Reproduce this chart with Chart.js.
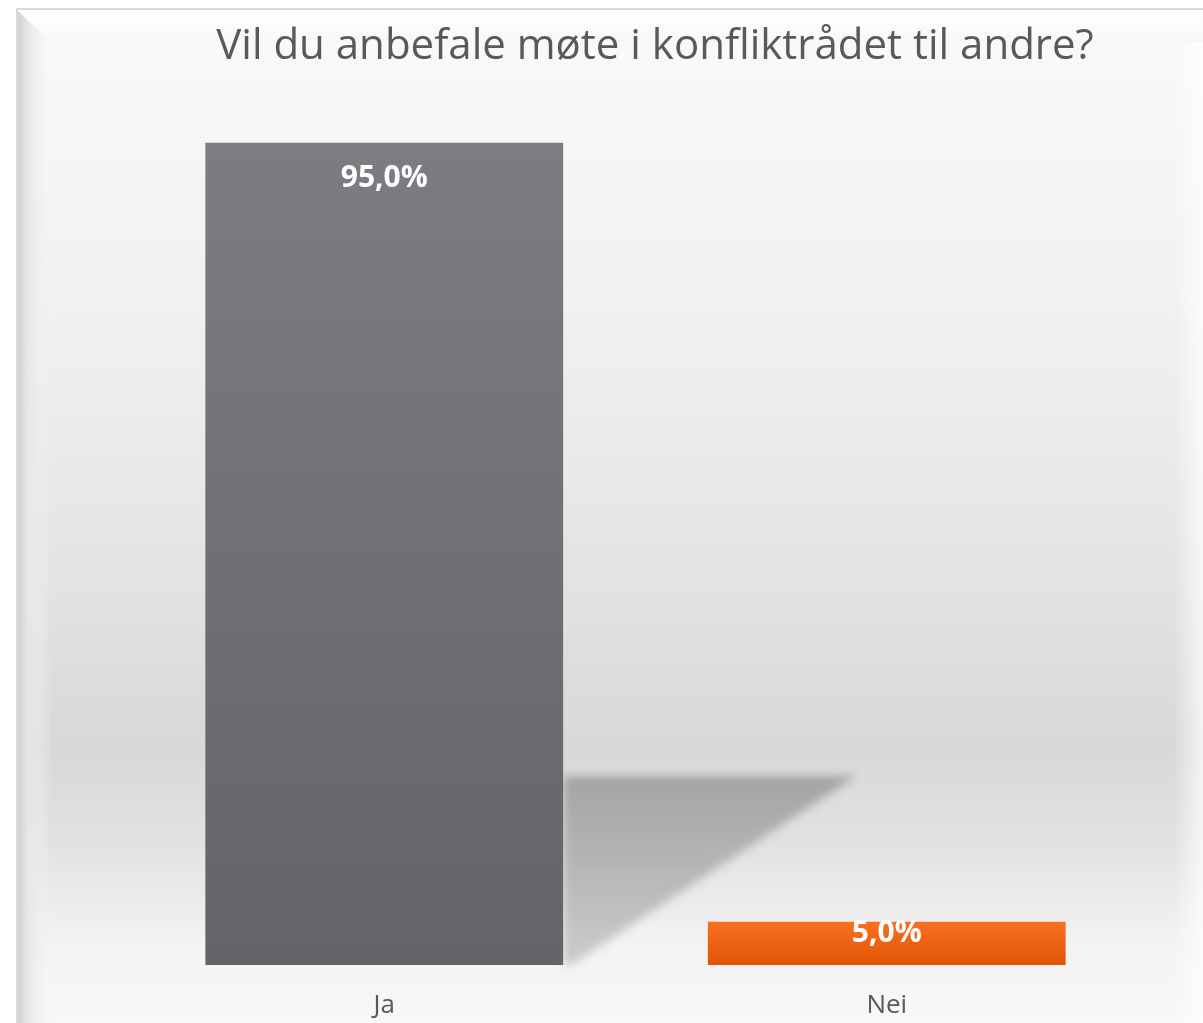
<!DOCTYPE html>
<html lang="no">
<head>
    <meta charset="utf-8">
    <title>Vil du anbefale møte i konfliktrådet til andre?</title>
    <script src="https://cdn.jsdelivr.net/npm/chart.js"></script>
    <style>
        body, html { margin: 0; padding: 0; background: #fff; }
        #wrap { width: 1203px; height: 1023px; position: relative; }
    </style>
</head>
<body>
    <div id="wrap"><canvas id="chart"></canvas></div>
    <script>
        // Data
        const categories = ['Ja', 'Nei'];
        const shares = [95.0, 5.0];
        const chartTitle = 'Vil du anbefale møte i konfliktrådet til andre?';

        // top / bottom colours of each bar's gradient
        const barTop = ['#7c7d81', '#fa6f20'];
        const barBottom = ['#636468', '#e05405'];

        function barGradient(ctx) {
            const chart = ctx.chart;
            const area = chart.chartArea;
            const y = chart.scales.y;
            if (!area || !y) return barTop[ctx.dataIndex];
            const top = y.getPixelForValue(shares[ctx.dataIndex]);
            const g = chart.ctx.createLinearGradient(0, top, 0, area.bottom);
            g.addColorStop(0, barTop[ctx.dataIndex]);
            g.addColorStop(1, barBottom[ctx.dataIndex]);
            return g;
        }

        // Frame + background behind the plot
        const backdrop = {
            id: 'backdrop',
            beforeDraw(chart) {
                const c = chart.ctx, w = chart.width, h = chart.height;
                c.save();
                c.fillStyle = '#ffffff';
                c.fillRect(0, 0, w, h);

                // inner panel gradient
                const bg = c.createLinearGradient(0, 40, 0, h);
                bg.addColorStop(0, '#f9f9f9');
                bg.addColorStop(0.3, '#f0f0f0');
                bg.addColorStop(0.55, '#e3e3e3');
                bg.addColorStop(0.72, '#d8d8d8');
                bg.addColorStop(0.82, '#e2e2e2');
                bg.addColorStop(0.92, '#f3f3f3');
                bg.addColorStop(1, '#f8f8f8');
                c.fillStyle = bg;
                c.fillRect(17, 10, w - 17, h - 10);

                // top bevel
                const tb = c.createLinearGradient(0, 10, 0, 42);
                tb.addColorStop(0, '#ffffff');
                tb.addColorStop(1, '#f7f7f7');
                c.fillStyle = tb;
                c.beginPath();
                c.moveTo(17, 10); c.lineTo(w, 10); c.lineTo(w, 42); c.lineTo(50, 42);
                c.closePath(); c.fill();

                // left bevel
                const lb = c.createLinearGradient(17, 0, 52, 0);
                lb.addColorStop(0, '#cfcfcf');
                lb.addColorStop(0.3, '#e6e6e6');
                lb.addColorStop(1, 'rgba(245,245,245,0)');
                c.fillStyle = lb;
                c.beginPath();
                c.moveTo(17, 10); c.lineTo(50, 42); c.lineTo(50, h); c.lineTo(17, h);
                c.closePath(); c.fill();

                // right bevel
                const rb = c.createLinearGradient(w - 30, 0, w, 0);
                rb.addColorStop(0, 'rgba(255,255,255,0)');
                rb.addColorStop(1, 'rgba(255,255,255,0.7)');
                c.fillStyle = rb;
                c.fillRect(w - 30, 42, 30, h - 42);

                // frame line
                c.strokeStyle = '#d9d9d9';
                c.lineWidth = 2;
                c.beginPath();
                c.moveTo(17, h); c.lineTo(17, 9); c.lineTo(w, 9);
                c.stroke();
                c.restore();
            },
            beforeDatasetsDraw(chart) {
                // perspective shadow cast by the tallest bar
                const meta = chart.getDatasetMeta(0);
                const el = meta.data[0];
                if (!el) return;
                const c = chart.ctx;
                const right = el.x + el.width / 2;
                const base = el.base;
                const hgt = base - el.y;
                const sy = base - hgt * 0.23;
                const sx = right + el.width * 0.82;
                c.save();
                c.filter = 'blur(5px)';
                const g = c.createLinearGradient(0, sy, 0, base);
                g.addColorStop(0, 'rgba(150,150,150,0.8)');
                g.addColorStop(1, 'rgba(175,175,175,0.6)');
                c.fillStyle = g;
                c.beginPath();
                c.moveTo(right, sy);
                c.lineTo(sx, sy);
                c.lineTo(right + 8, base);
                c.lineTo(right, base);
                c.closePath();
                c.fill();
                c.restore();
            }
        };

        // Value labels inside the bar ends
        const valueLabels = {
            id: 'valueLabels',
            afterDatasetsDraw(chart) {
                const c = chart.ctx;
                const meta = chart.getDatasetMeta(0);
                c.save();
                c.font = 'bold 30px "Open Sans"';
                c.fillStyle = '#ffffff';
                c.textAlign = 'center';
                c.textBaseline = 'middle';
                meta.data.forEach((el, i) => {
                    const hgt = el.base - el.y;
                    const off = Math.min(36, hgt / 2 - 10);
                    const txt = shares[i].toFixed(1).replace('.', ',') + '%';
                    c.fillText(txt, el.x, el.y + off);
                });
                c.restore();
            }
        };

        const ctx = document.getElementById('chart').getContext('2d');
        new Chart(ctx, {
            type: 'bar',
            data: {
                labels: categories,
                datasets: [{
                    data: shares,
                    backgroundColor: barGradient,
                    borderWidth: 0,
                    categoryPercentage: 1,
                    barPercentage: 0.712
                }]
            },
            options: {
                responsive: true,
                maintainAspectRatio: false,
                animation: false,
                layout: { padding: { top: 22, left: 133, right: 26, bottom: 0 } },
                plugins: {
                    legend: { display: false },
                    tooltip: { enabled: false },
                    title: {
                        display: true,
                        text: chartTitle,
                        color: '#595959',
                        font: { family: '"Open Sans"', size: 42, weight: 'normal', lineHeight: 1.2 },
                        padding: { top: 0, bottom: 27 }
                    }
                },
                scales: {
                    x: {
                        grid: { display: false },
                        border: { display: false },
                        ticks: {
                            color: '#595959',
                            padding: 17,
                            font: { family: '"Open Sans"', size: 26, lineHeight: 1.2 }
                        },
                        afterFit: s => { s.height = 58; }
                    },
                    y: {
                        position: 'right',
                        min: 0,
                        max: 100,
                        grid: { display: false },
                        border: { display: false },
                        ticks: { display: false },
                        afterFit: s => { s.width = 39; }
                    }
                }
            },
            plugins: [backdrop, valueLabels]
        });
    </script>
</body>
</html>
